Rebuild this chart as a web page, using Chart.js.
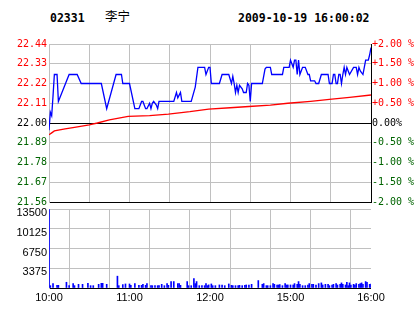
<!DOCTYPE html>
<html>
<head>
<meta charset="utf-8">
<script src="https://cdn.jsdelivr.net/npm/chart.js@4.4.1/dist/chart.umd.min.js"></script>
<style>
  html, body { margin: 0; padding: 0; background: #fff; }
  #wrap { position: relative; width: 414px; height: 314px; overflow: hidden; background: #fff; }
  #wrap canvas { position: absolute; left: 0; }
  .hd { position: absolute; white-space: nowrap; color: #000; line-height: 12px; }
  .mono { font: bold 11.5px "DejaVu Sans Mono", monospace; }
</style>
</head>
<body>
<div id="wrap">
  <div class="hd mono" id="code" style="left:50px; top:11px;"></div>
  <div class="hd" id="name" style="left:105px; top:9px; font:12.5px 'Noto Sans CJK SC', sans-serif; line-height:13px;"></div>
  <div class="hd mono" id="stamp" style="left:238px; top:11px;"></div>
  <canvas id="priceChart" width="414" height="210" style="top:0;"></canvas>
  <canvas id="volChart" width="414" height="114" style="top:200px;"></canvas>
</div>
<script>
// header
const stockCode = '02331';
const stockName = '李宁';
const stamp = '2009-10-19 16:00:02';

// axis ticks
const priceTickValues = [21.56, 21.67, 21.78, 21.89, 22.00, 22.11, 22.22, 22.33, 22.44];
const priceTickLabels = ['21.56', '21.67', '21.78', '21.89', '22.00', '22.11', '22.22', '22.33', '22.44'];
const pctTickValues = [-2, -1.5, -1, -0.5, 0, 0.5, 1, 1.5, 2];
const pctTickLabels = ['-2.00 %', '-1.50 %', '-1.00 %', '-0.50 %', '0.00%', '+0.50 %', '+1.00 %', '+1.50 %', '+2.00 %'];
const volTickValues = [0, 3375, 6750, 10125, 13500];
const volTickLabels = ['', '3375', '6750', '10125', '13500'];
const timeTickValues = [0, 30, 60, 90, 120, 150, 180, 210, 240];
const timeTickLabels = ['10:00', '', '11:00', '', '12:00', '', '15:00', '', '16:00'];

// price line (minute from 10:00, trading minutes only)
const priceMinutes = [0, 1, 2, 3, 4, 6, 7, 15, 21, 24, 39, 43, 50, 54, 55, 60, 64, 67, 69, 70,
  72, 73, 75, 76, 77, 78, 80, 81, 82, 93, 95, 96, 98, 99, 106, 109, 111, 116, 117, 119,
  120, 121, 127, 129, 134, 136, 137, 138, 139, 140, 141, 142, 144, 145, 147, 148, 149, 150, 151, 159,
  161, 162, 165, 166, 174, 175, 179, 180, 181, 182, 183, 184, 185, 186, 187, 189, 191, 193, 194, 195,
  198, 199, 201, 203, 208, 209, 211, 212, 213, 214, 215, 216, 217, 218, 219, 220, 221, 222, 223, 224,
  227, 229, 230, 231, 232, 234, 235, 236, 238, 239, 240];
const prices = [21.96, 22.06, 22.04, 22.15, 22.27, 22.27, 22.12, 22.27, 22.27, 22.22, 22.22, 22.08, 22.27, 22.27, 22.22, 22.22, 22.08, 22.08, 22.12, 22.12,
  22.08, 22.08, 22.11, 22.08, 22.11, 22.12, 22.10, 22.08, 22.12, 22.12, 22.17, 22.14, 22.17, 22.12, 22.12, 22.20, 22.31, 22.31, 22.27, 22.31,
  22.31, 22.22, 22.22, 22.27, 22.27, 22.22, 22.26, 22.22, 22.17, 22.21, 22.17, 22.21, 22.19, 22.17, 22.17, 22.22, 22.21, 22.12, 22.22, 22.22,
  22.30, 22.31, 22.31, 22.27, 22.27, 22.31, 22.31, 22.35, 22.33, 22.31, 22.35, 22.35, 22.27, 22.35, 22.27, 22.31, 22.31, 22.27, 22.27, 22.235,
  22.235, 22.22, 22.22, 22.27, 22.27, 22.22, 22.22, 22.27, 22.27, 22.22, 22.22, 22.27, 22.27, 22.22, 22.27, 22.31, 22.27, 22.31, 22.29, 22.27,
  22.31, 22.31, 22.27, 22.31, 22.29, 22.27, 22.31, 22.35, 22.35, 22.38, 22.42];

// average price line
const avgMinutes = [0, 2, 4, 12, 19, 30, 36, 45, 59, 75, 89, 105, 119, 135, 149, 165, 178, 195, 209, 224, 240];
const avgPrices = [21.934, 21.945, 21.956, 21.967, 21.976, 21.99, 22.00, 22.017, 22.037, 22.041, 22.05, 22.063, 22.077, 22.085, 22.092, 22.099, 22.11, 22.121, 22.132, 22.143, 22.156];

// volume per minute
const volMinutes = [0, 1, 3, 6, 7, 13, 15, 18, 19, 22, 25, 29, 31, 33, 37, 39, 40, 43, 51, 52,
  55, 57, 60, 61, 64, 67, 69, 70, 72, 73, 76, 77, 79, 81, 82, 84, 86, 88, 89, 91,
  93, 96, 97, 98, 103, 104, 106, 108, 109, 110, 112, 114, 116, 117, 118, 119, 121, 122, 124, 127,
  129, 131, 134, 136, 137, 139, 141, 142, 144, 146, 147, 149, 151, 156, 159, 160, 162, 163, 165, 167,
  168, 170, 171, 172, 174, 176, 177, 178, 180, 182, 183, 185, 186, 187, 189, 191, 193, 194, 196, 197,
  199, 201, 203, 204, 206, 208, 209, 211, 212, 214, 215, 217, 218, 219, 221, 222, 223, 224, 225, 227,
  228, 229, 231, 232, 233, 234, 236, 237, 239, 240];
const volumes = [13400, 400, 750, 460, 460, 980, 400, 750, 400, 630, 630, 800, 400, 400, 630, 800, 800, 630, 2020, 400,
  580, 690, 690, 460, 750, 460, 460, 630, 460, 750, 400, 400, 400, 400, 400, 630, 400, 750, 460, 1100,
  1100, 750, 750, 460, 1100, 400, 400, 1610, 750, 1100, 400, 400, 400, 750, 400, 530, 690, 400, 400, 520,
  520, 400, 690, 460, 400, 400, 400, 460, 400, 460, 520, 520, 630, 1270, 630, 750, 400, 400, 400, 750,
  630, 520, 520, 580, 400, 750, 520, 520, 520, 520, 750, 630, 1100, 630, 400, 400, 520, 750, 630, 630,
  520, 750, 870, 520, 630, 630, 400, 520, 630, 750, 520, 630, 870, 630, 520, 980, 400, 870, 520, 630,
  520, 750, 630, 750, 870, 630, 1100, 980, 630, 690];

document.getElementById('code').textContent = stockCode;
document.getElementById('name').textContent = stockName;
document.getElementById('stamp').textContent = stamp;

const GRID = '#c0c0c0';
const RED = '#ff0000';
const GREEN = '#006400';
const monoFont = { family: 'DejaVu Sans Mono', size: 10 };
const sansFont = { family: 'Liberation Sans', size: 11 };

function sideColor(i) {
  if (i < 4) return GREEN;
  if (i === 4) return '#000';
  return RED;
}

new Chart(document.getElementById('priceChart'), {
  type: 'line',
  data: {
    datasets: [
      {
        data: priceMinutes.map((m, i) => ({ x: m, y: prices[i] })),
        borderColor: '#0000ff',
        borderWidth: 1.3,
        pointRadius: 0,
        tension: 0,
        yAxisID: 'y'
      },
      {
        data: avgMinutes.map((m, i) => ({ x: m, y: avgPrices[i] })),
        borderColor: RED,
        borderWidth: 1.3,
        pointRadius: 0,
        tension: 0,
        yAxisID: 'y'
      }
    ]
  },
  options: {
    responsive: false,
    animation: false,
    events: [],
    layout: { padding: { top: 44, bottom: 7, left: 0, right: 0 } },
    plugins: { legend: { display: false }, tooltip: { enabled: false } },
    scales: {
      x: {
        type: 'linear',
        min: 0,
        max: 240,
        afterBuildTicks: s => { s.ticks = timeTickValues.map(v => ({ value: v })); },
        afterFit: s => { s.height = 0; },
        ticks: { display: false },
        grid: {
          drawTicks: false,
          color: ctx => (ctx.tick && ctx.tick.value === 240 ? 'rgba(0,0,0,0)' : GRID)
        },
        border: { display: false }
      },
      y: {
        position: 'left',
        min: 21.56,
        max: 22.44,
        afterBuildTicks: s => { s.ticks = priceTickValues.map(v => ({ value: v })); },
        afterFit: s => { s.width = 49; },
        ticks: {
          font: monoFont,
          padding: 2,
          callback: (v, i) => priceTickLabels[i],
          color: ctx => sideColor(ctx.index)
        },
        grid: {
          drawTicks: false,
          color: ctx => (ctx.index === 0 || ctx.index === 4 ? '#000' : GRID)
        },
        border: { color: GRID }
      },
      y2: {
        position: 'right',
        min: -2,
        max: 2,
        afterBuildTicks: s => { s.ticks = pctTickValues.map(v => ({ value: v })); },
        afterFit: s => { s.width = 43; },
        ticks: {
          font: monoFont,
          padding: 1,
          callback: (v, i) => pctTickLabels[i],
          color: ctx => sideColor(ctx.index)
        },
        grid: { display: false, drawTicks: false },
        border: { color: '#000' }
      }
    }
  }
});

new Chart(document.getElementById('volChart'), {
  type: 'bar',
  data: {
    datasets: [{
      data: volMinutes.map((m, i) => ({ x: m, y: volumes[i] })),
      backgroundColor: '#0000ff',
      borderWidth: 0,
      barThickness: 1
    }]
  },
  options: {
    responsive: false,
    animation: false,
    events: [],
    layout: { padding: { top: 9, bottom: 0, left: 0, right: 43 } },
    plugins: { legend: { display: false }, tooltip: { enabled: false } },
    scales: {
      x: {
        type: 'linear',
        min: 0,
        max: 240,
        offset: false,
        afterBuildTicks: s => { s.ticks = timeTickValues.map(v => ({ value: v })); },
        afterFit: s => { s.height = 26; },
        ticks: {
          font: sansFont,
          color: '#000',
          padding: 3,
          autoSkip: false,
          maxRotation: 0,
          callback: (v, i) => timeTickLabels[i]
        },
        grid: { drawTicks: false, color: GRID },
        border: { display: false }
      },
      y: {
        min: 0,
        max: 13500,
        afterBuildTicks: s => { s.ticks = volTickValues.map(v => ({ value: v })); },
        afterFit: s => { s.width = 49; },
        ticks: {
          font: sansFont,
          color: '#000',
          padding: 2,
          labelOffset: 4,
          callback: (v, i) => volTickLabels[i]
        },
        grid: {
          drawTicks: false,
          color: ctx => (ctx.index === 0 ? '#000' : GRID)
        },
        border: { color: GRID }
      }
    }
  }
});
</script>
</body>
</html>
